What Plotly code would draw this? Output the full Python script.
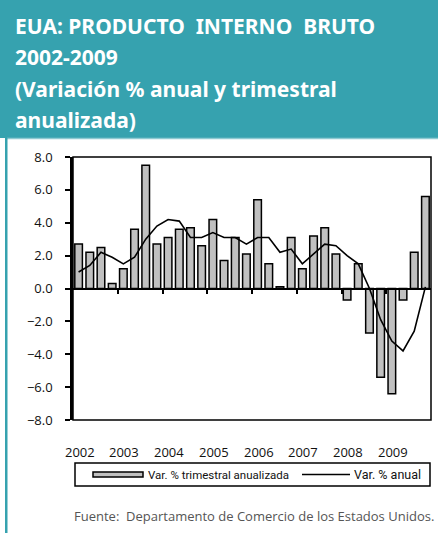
import plotly.graph_objects as go

# ---- data ----
years = ["2002", "2003", "2004", "2005", "2006", "2007", "2008", "2009"]
quarterly_annualized = [2.7, 2.2, 2.5, 0.3, 1.2, 3.6, 7.5, 2.7,
                        3.1, 3.6, 3.7, 2.6, 4.2, 1.7, 3.1, 2.1,
                        5.4, 1.5, 0.1, 3.1, 1.2, 3.2, 3.7, 2.1,
                        -0.7, 1.5, -2.7, -5.4, -6.4, -0.7, 2.2, 5.6]
annual_change = [1.0, 1.4, 2.2, 1.9, 1.5, 1.9, 3.0, 3.8,
                 4.2, 4.1, 3.1, 3.1, 3.4, 3.1, 3.1, 2.7,
                 3.1, 3.1, 2.2, 2.4, 1.5, 2.1, 2.7, 2.6,
                 2.0, 1.5, 0.0, -1.9, -3.2, -3.8, -2.6, 0.1]
series_names = ["Var. % trimestral anualizada", "Var. % anual"]
title_lines = ["EUA: PRODUCTO\u00a0 INTERNO\u00a0 BRUTO", "2002-2009",
               "(Variación % anual y trimestral", "anualizada)"]
source = "Fuente:\u00a0 Departamento de Comercio de los Estados Unidos."

# ---- geometry helpers ----
W, H = 438, 533
L, R, T, B = 73, 431, 157, 420
PW, PH = R - L, B - T
def px(x):
    return (x - L) / PW
def py(y):
    return (B - y) / PH

TEAL = "#36A2AF"
n = len(quarterly_annualized)
xi = list(range(n))

fig = go.Figure()
fig.add_trace(go.Bar(x=xi, y=quarterly_annualized, name=series_names[0],
                     marker=dict(color="#C0C0C0", line=dict(color="black", width=1.5)),
                     width=0.68, showlegend=False))
fig.add_trace(go.Scatter(x=xi, y=annual_change, name=series_names[1], mode="lines",
                         line=dict(color="black", width=1.6), showlegend=False))

fig.update_layout(
    width=W, height=H,
    margin=dict(l=L, r=W - R, t=T, b=H - B),
    paper_bgcolor="white", plot_bgcolor="white",
    font=dict(family="Open Sans, Noto Sans, sans-serif", color="black"),
    bargap=0.3,
)
fig.update_yaxes(range=[-8, 8], dtick=2, tick0=0, tickformat=".1f",
                 showline=True, linecolor="black", linewidth=2.5,
                 ticks="outside", ticklen=5, tickwidth=1.5, tickcolor="black",
                 ticklabelstandoff=10, showgrid=False, zeroline=False,
                 tickfont=dict(size=13, family="Open Sans, sans-serif", color="#111"))
boundaries = [4 * k - 0.5 for k in range(1, len(years))]
fig.update_xaxes(range=[-0.5, n - 0.5], anchor="free", position=0.5,
                 showline=True, linecolor="black", linewidth=2,
                 tickvals=boundaries, ticks="outside", ticklen=4, tickwidth=1.5,
                 tickcolor="black", showticklabels=False,
                 showgrid=False, zeroline=False)

shapes = []
# plot frame
shapes.append(dict(type="rect", xref="paper", yref="paper", x0=0, x1=1, y0=0, y1=1,
                   line=dict(color="black", width=1.5), layer="above"))
# header band
shapes.append(dict(type="rect", xref="paper", yref="paper", x0=px(-2), x1=px(440),
                   y0=py(138), y1=py(-2), fillcolor=TEAL, line=dict(width=0)))
shapes.append(dict(type="line", xref="paper", yref="paper", x0=px(7), x1=px(440),
                   y0=py(138.5), y1=py(138.5), line=dict(color="#8FCAD2", width=1.5)))
# left border
shapes.append(dict(type="rect", xref="paper", yref="paper", x0=px(5), x1=px(7.5),
                   y0=py(535), y1=py(138), fillcolor=TEAL, line=dict(width=0)))
# legend box
shapes.append(dict(type="rect", xref="paper", yref="paper", x0=px(75), x1=px(430),
                   y0=py(486), y1=py(463), line=dict(color="black", width=1.5)))
shapes.append(dict(type="rect", xref="paper", yref="paper", x0=px(93), x1=px(143),
                   y0=py(477), y1=py(472), fillcolor="#C0C0C0",
                   line=dict(color="black", width=1.5)))
shapes.append(dict(type="line", xref="paper", yref="paper", x0=px(302), x1=px(350),
                   y0=py(474.5), y1=py(474.5), line=dict(color="black", width=1.5)))
fig.update_layout(shapes=shapes)

ann = []
title_y = [26, 57, 89, 120]
for txt, yy in zip(title_lines, title_y):
    ann.append(dict(text=txt, xref="paper", yref="paper", x=px(13), y=py(yy),
                    xanchor="left", yanchor="middle", showarrow=False,
                    font=dict(family="Noto Sans, sans-serif", size=21, color="white",
                              weight="bold")))
for k, yr in enumerate(years):
    ann.append(dict(text=yr, xref="x", yref="paper", x=4 * k + 0.1, y=py(452),
                    xanchor="center", yanchor="middle", showarrow=False,
                    font=dict(size=13, family="Open Sans, sans-serif", color="#111")))
ann.append(dict(text=series_names[0], xref="paper", yref="paper", x=px(146), y=py(474.5),
                xanchor="left", yanchor="middle", showarrow=False,
                font=dict(size=11.5, family="Roboto, sans-serif", color="#111")))
ann.append(dict(text=series_names[1], xref="paper", yref="paper", x=px(352), y=py(474.5),
                xanchor="left", yanchor="middle", showarrow=False,
                font=dict(size=12.5, family="Roboto, sans-serif", color="#111")))
ann.append(dict(text=source, xref="paper", yref="paper", x=px(72), y=py(516),
                xanchor="left", yanchor="middle", showarrow=False,
                font=dict(size=13, family="Open Sans, sans-serif", color="#555")))
fig.update_layout(annotations=ann)

fig.write_html("out.html", config={"displayModeBar": False},
               post_script="document.body.style.margin='0';document.body.style.overflow='hidden';")
